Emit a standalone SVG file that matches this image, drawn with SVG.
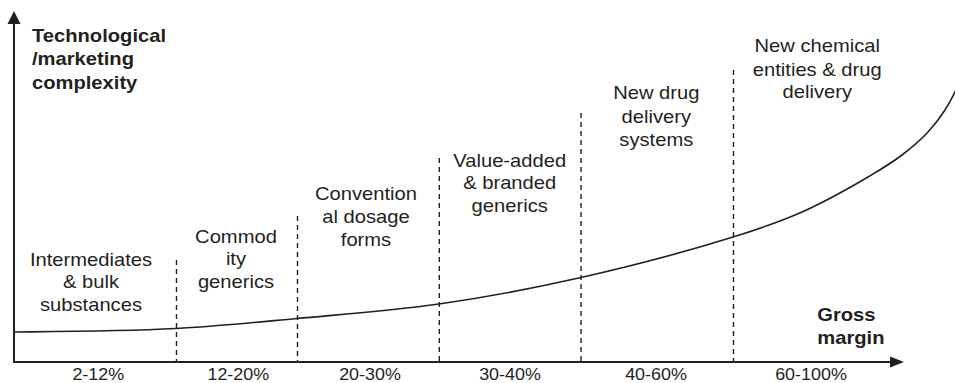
<svg xmlns="http://www.w3.org/2000/svg" width="955" height="383" viewBox="0 0 955 383">
<style>
  .t { font-family: "Liberation Sans", Arial, sans-serif; font-size: 18px; fill: #231f20; text-anchor: middle; }
  .b { font-family: "Liberation Sans", Arial, sans-serif; font-size: 18px; font-weight: bold; fill: #231f20; text-anchor: start; }
  .p { font-family: "Liberation Sans", Arial, sans-serif; font-size: 16px; fill: #231f20; text-anchor: middle; }
  .axis { stroke: #231f20; stroke-width: 2; fill: none; }
  .dash { stroke: #231f20; stroke-width: 1.4; stroke-dasharray: 5 4; fill: none; }
  .curve { stroke: #231f20; stroke-width: 1.6; fill: none; }
  .head { fill: #231f20; }
</style>
<rect width="955" height="383" fill="#ffffff"/>
<g id="connectors">
  <line class="axis" x1="14" y1="362" x2="14" y2="22"/>
  <polygon class="head" points="14,11 7.5,24 20.5,24"/>
  <line class="axis" x1="13" y1="362" x2="892" y2="362"/>
  <polygon class="head" points="904,362 890,356.5 890,367.5"/>
  <line class="dash" x1="176.5" y1="260" x2="176.5" y2="362"/>
  <line class="dash" x1="297.5" y1="216" x2="297.5" y2="362"/>
  <line class="dash" x1="439.3" y1="158" x2="439.3" y2="362"/>
  <line class="dash" x1="581" y1="113" x2="581" y2="362"/>
  <line class="dash" x1="733.5" y1="70" x2="733.5" y2="362"/>
  <path class="curve" d="M14,332 C68,331.5 122,331.3 176,328.5 C216.3,326.4 256.7,322.2 297,318.5 C344.3,314.15 391.7,310.8 439,304 C486.3,297.2 533.7,288.2 581,277.5 C631.7,266 682.3,252.9 733,237 C756,229.8 779,222.3 802,212 C824,202.2 846,190 868,177 C879.3,170.3 890.7,163.7 902,155 C910.7,148.4 919.3,141.4 928,132 C933.7,125.8 939.3,118.8 945,110 C948.7,104.3 952.3,97.7 956,90"/>
</g>
<g id="y-axis-label" transform="scale(1.12,1)">
  <text class="b" x="28.57" y="42">Technological</text>
  <text class="b" x="28.57" y="65">/marketing</text>
  <text class="b" x="28.57" y="89">complexity</text>
</g>
<g id="x-axis-label" transform="scale(1.12,1)">
  <text class="b" x="729.7" y="321">Gross</text>
  <text class="b" x="729.7" y="344">margin</text>
</g>
<g id="seg-intermediates" transform="scale(1.12,1)">
  <text class="t" x="81.25" y="266">Intermediates</text>
  <text class="t" x="81.25" y="288.5">&amp; bulk</text>
  <text class="t" x="81.25" y="311">substances</text>
  <text class="p" x="87.77" y="380.5">2-12%</text>
</g>
<g id="seg-commodity" transform="scale(1.12,1)">
  <text class="t" x="210.7" y="242.7">Commod</text>
  <text class="t" x="210.7" y="265.5">ity</text>
  <text class="t" x="210.7" y="288.3">generics</text>
  <text class="p" x="212.77" y="380.5">12-20%</text>
</g>
<g id="seg-conventional" transform="scale(1.12,1)">
  <text class="t" x="326.8" y="200">Convention</text>
  <text class="t" x="326.8" y="222.7">al dosage</text>
  <text class="t" x="326.8" y="246">forms</text>
  <text class="p" x="330.36" y="380.5">20-30%</text>
</g>
<g id="seg-value-added" transform="scale(1.12,1)">
  <text class="t" x="455.1" y="166.7">Value-added</text>
  <text class="t" x="455.1" y="189.3">&amp; branded</text>
  <text class="t" x="455.1" y="211.7">generics</text>
  <text class="p" x="455.36" y="380.5">30-40%</text>
</g>
<g id="seg-ndds" transform="scale(1.12,1)">
  <text class="t" x="586" y="99.5">New drug</text>
  <text class="t" x="586" y="122.8">delivery</text>
  <text class="t" x="586" y="146">systems</text>
  <text class="p" x="585.71" y="380.5">40-60%</text>
</g>
<g id="seg-nce" transform="scale(1.12,1)">
  <text class="t" x="729.7" y="52.5">New chemical</text>
  <text class="t" x="729.7" y="75.8">entities &amp; drug</text>
  <text class="t" x="729.7" y="98.5">delivery</text>
  <text class="p" x="724.1" y="380.5">60-100%</text>
</g>
</svg>
